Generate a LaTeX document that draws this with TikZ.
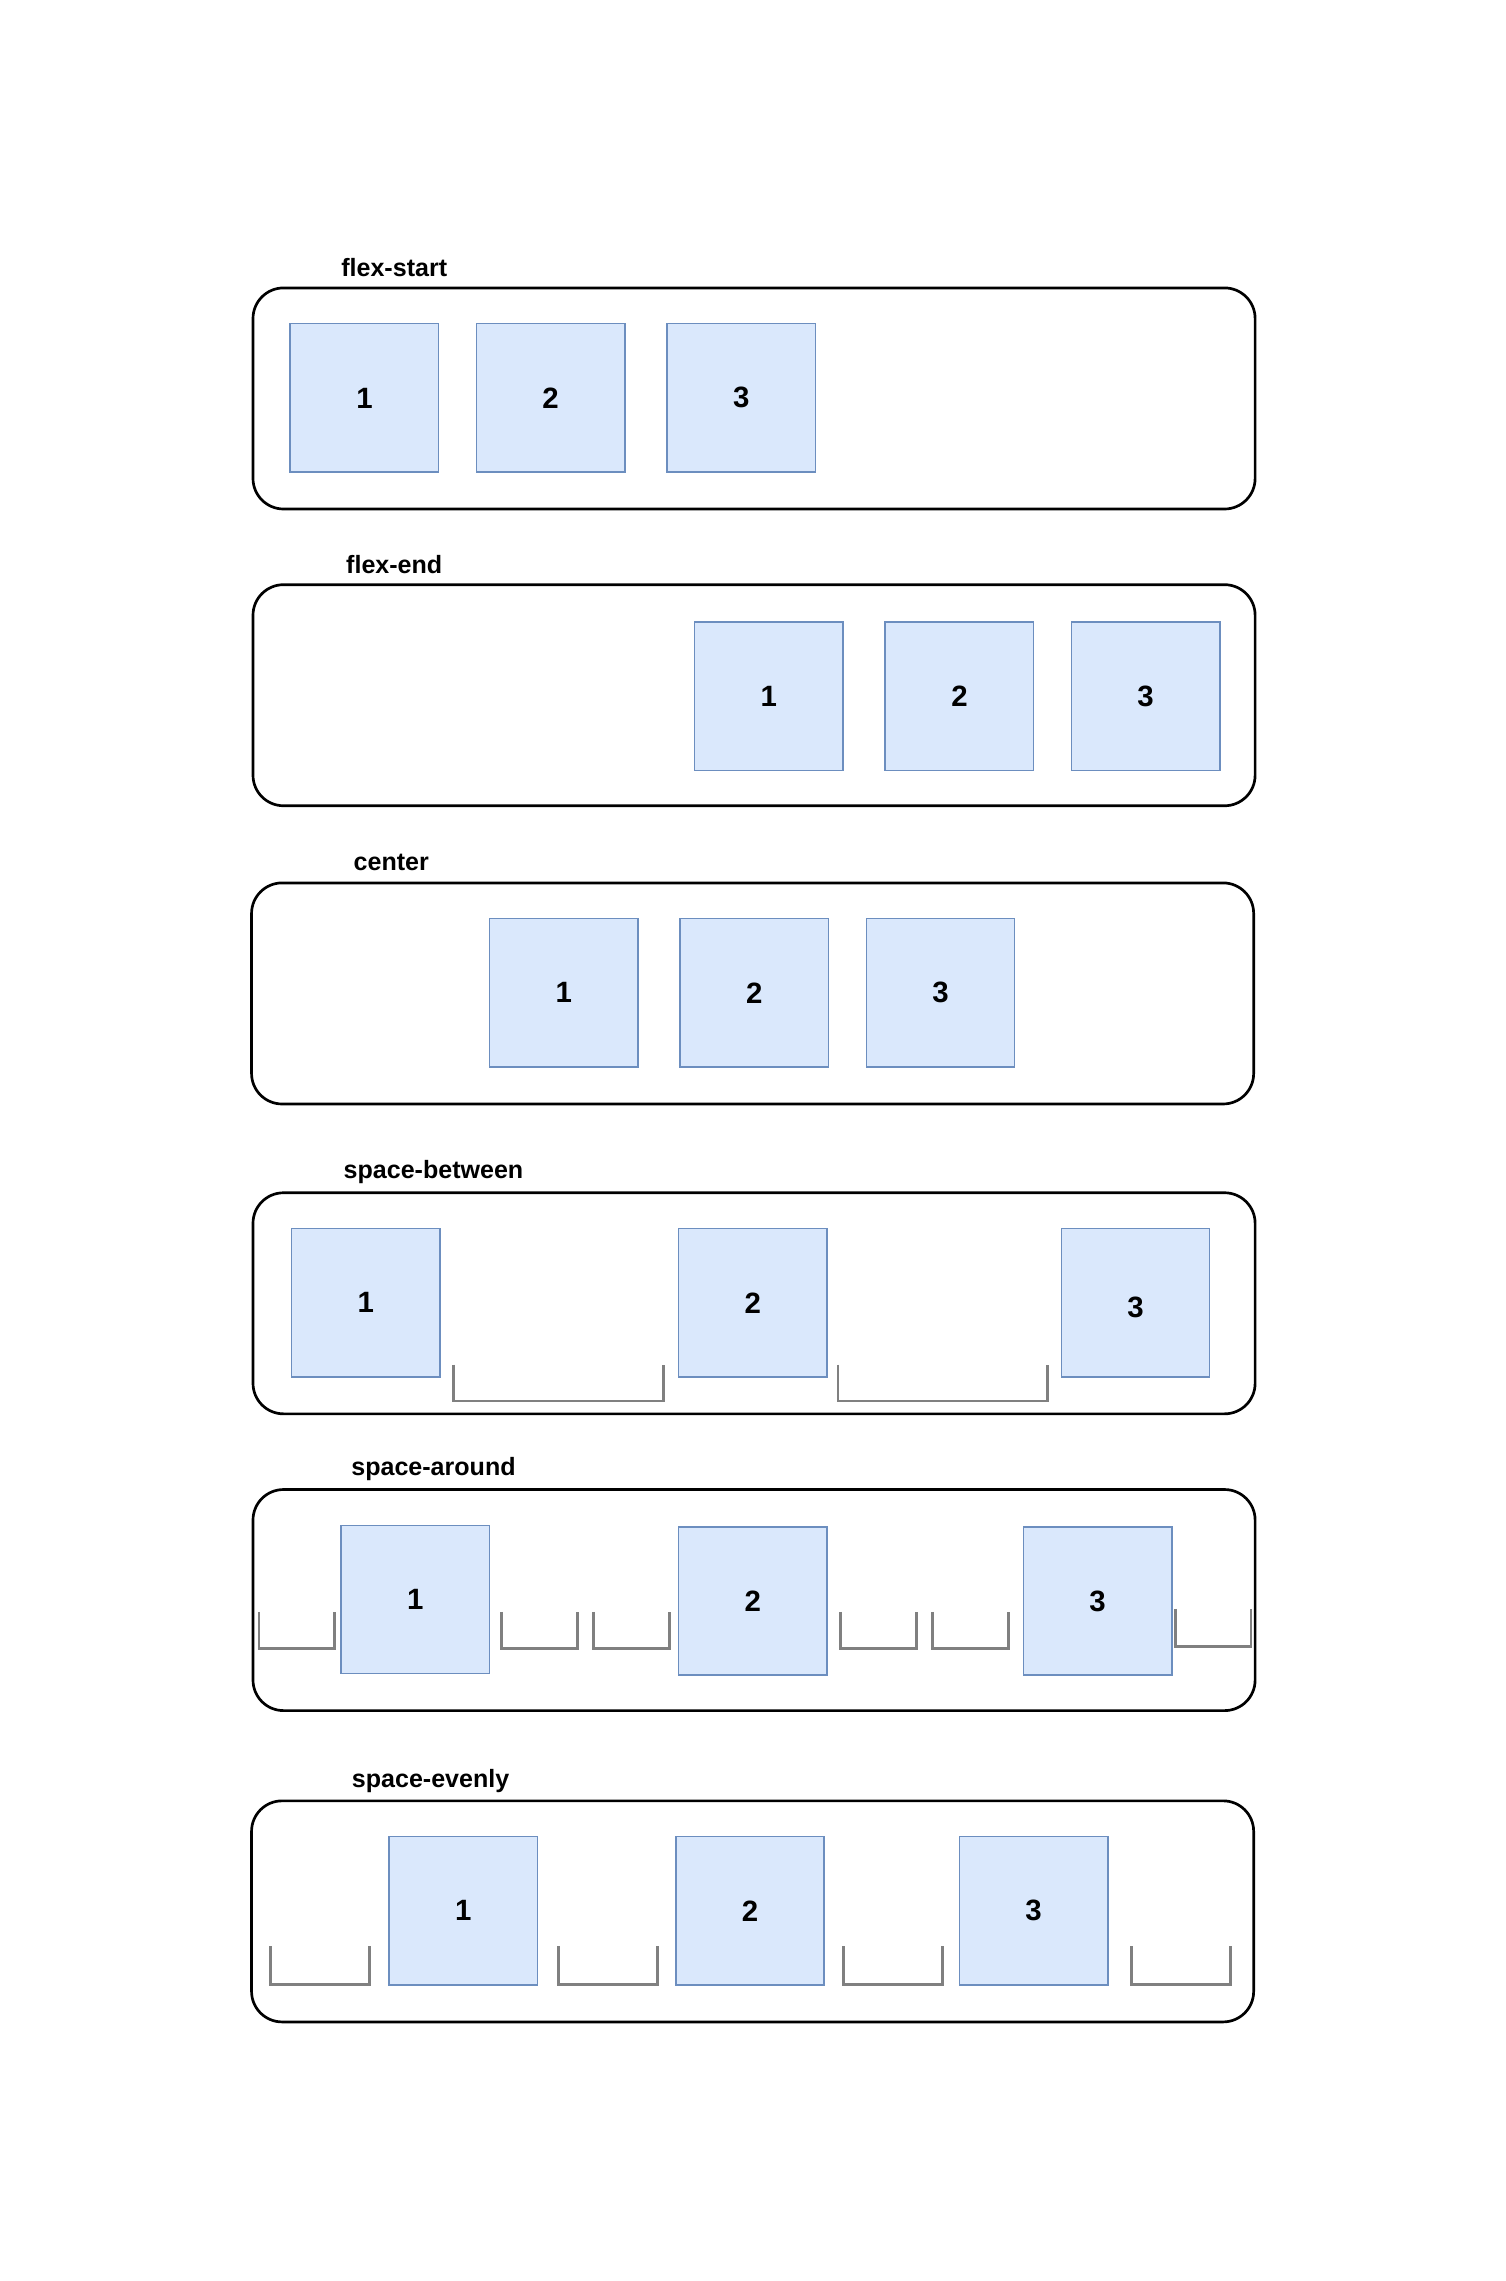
\documentclass[tikz,border=0pt]{standalone}
\usepackage{fontspec}
\setmainfont{Liberation Sans}
\definecolor{boxfill}{HTML}{DAE8FC}
\definecolor{boxline}{HTML}{6C8EBF}
\definecolor{gapline}{HTML}{808080}
\begin{document}
\begin{tikzpicture}[x=0.02cm,y=-0.02cm,
  numfont/.style={font=\fontsize{11.5}{13}\selectfont\bfseries},
  container/.style={draw=black,line width=1.05pt,rounded corners=0.42cm,minimum width=13.78cm,minimum height=3.04cm,anchor=north west,inner sep=0pt},
  item/.style={draw=boxline,fill=boxfill,line width=0.6pt,minimum width=2.04cm,minimum height=2.04cm,anchor=north west,inner sep=0pt,numfont},
  title/.style={font=\fontsize{9.8}{12}\selectfont\bfseries,inner sep=0pt},
  gap/.style={draw=gapline,line width=1.1pt}]
\useasboundingbox (0,0) rectangle (1035,1568);
% flex-start
\node[title] (t1) at (271,184) {flex-start};
\node[container] (c1) at (173,197) {};
\node[item] (a1) at (199,222) {1};
\node[item] (a2) at (327,222) {2};
\node[item] (a3) at (458,222) {3};
% flex-end
\node[title] (t2) at (271,388) {flex-end};
\node[container] (c2) at (173,401) {};
\node[item] (b1) at (477,427) {1};
\node[item] (b2) at (608,427) {2};
\node[item] (b3) at (736,427) {3};
% center
\node[title] (t3) at (269,593) {center};
\node[container] (c3) at (172,606) {};
\node[item] (d1) at (336,631) {1};
\node[item] (d2) at (467,631) {2};
\node[item] (d3) at (595,631) {3};
% space-between
\node[title] (t4) at (298,806) {space-between};
\node[container] (c4) at (173,819) {};
\node[item] (e1) at (200,844) {1};
\node[item] (e2) at (466,844) {2};
\node[item,label={[numfont,yshift=-0.06cm]center:3}] (e3) at (729,844) {};
\draw[gap] (312,938) -- (312,963) -- (456,963) -- (456,938);
\draw[gap] (576,938) -- (576,963) -- (720,963) -- (720,938);
% space-around
\node[title] (t5) at (298,1010) {space-around};
\node[container] (c5) at (173,1023) {};
\node[item] (f1) at (234,1048) {1};
\node[item] (f2) at (466,1049) {2};
\node[item] (f3) at (703,1049) {3};
\draw[gap] (178,1108) -- (178,1133) -- (230,1133) -- (230,1108);
\draw[gap] (345,1108) -- (345,1133) -- (397,1133) -- (397,1108);
\draw[gap] (408,1108) -- (408,1133) -- (460,1133) -- (460,1108);
\draw[gap] (578,1108) -- (578,1133) -- (630,1133) -- (630,1108);
\draw[gap] (641,1108) -- (641,1133) -- (693,1133) -- (693,1108);
\draw[gap] (808,1106) -- (808,1132) -- (860,1132) -- (860,1106);
% space-evenly
\node[title] (t6) at (296,1224) {space-evenly};
\node[container] (c6) at (172,1237) {};
\node[item] (g1) at (267,1262) {1};
\node[item] (g2) at (464,1262) {2};
\node[item] (g3) at (659,1262) {3};
\draw[gap] (186,1338) -- (186,1364) -- (254,1364) -- (254,1338);
\draw[gap] (384,1338) -- (384,1364) -- (452,1364) -- (452,1338);
\draw[gap] (580,1338) -- (580,1364) -- (648,1364) -- (648,1338);
\draw[gap] (778,1338) -- (778,1364) -- (846,1364) -- (846,1338);
\end{tikzpicture}
\end{document}
